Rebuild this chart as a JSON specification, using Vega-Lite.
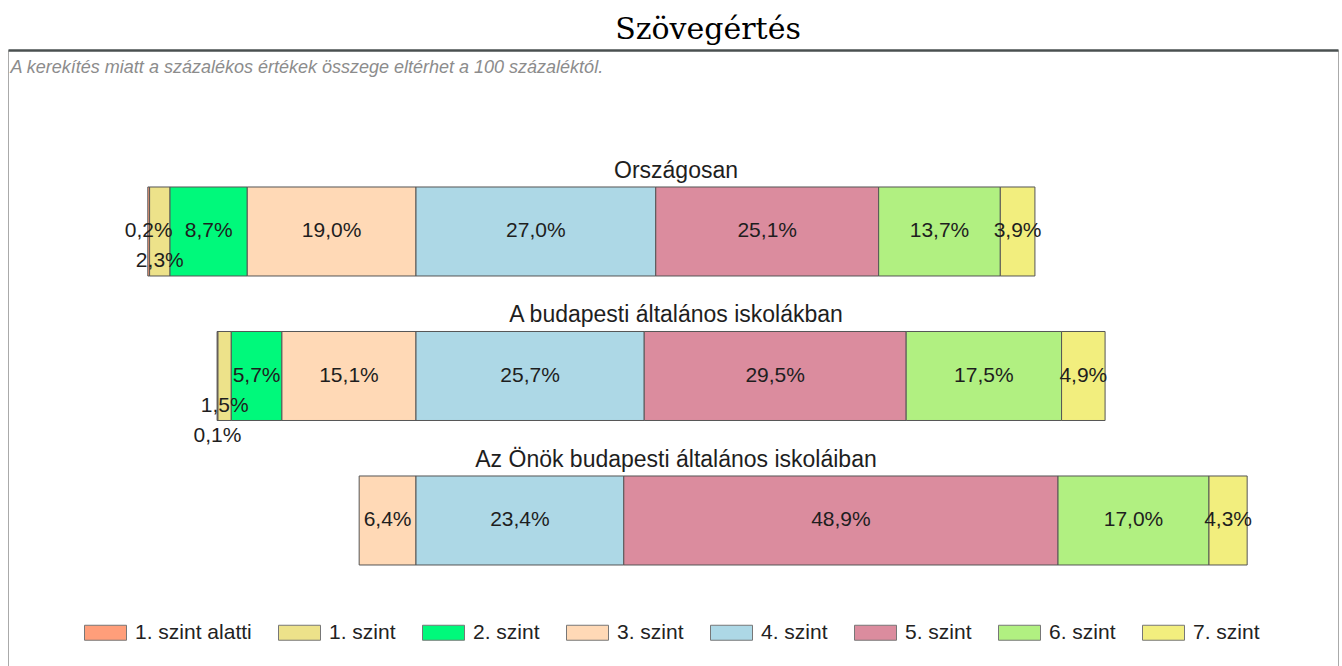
{
  "$schema": "https://vega.github.io/schema/vega-lite/v6.json",
  "width": 1330,
  "height": 616,
  "autosize": {"type": "none"},
  "padding": {"left": 8, "top": 50, "right": 4, "bottom": 0},
  "background": "white",
  "title": {"text": "Szövegértés", "font": "DejaVu Serif", "fontSize": 30, "fontWeight": "normal", "color": "#000000", "anchor": "middle", "dx": 35, "dy": 32, "offset": 13, "baseline": "alphabetic"},
  "datasets": {
    "szint": [
      {"g": "Országosan", "level": "1. szint alatti", "n": 0, "p": 0.002},
      {"g": "Országosan", "level": "1. szint", "n": 1, "p": 0.023},
      {"g": "Országosan", "level": "2. szint", "n": 2, "p": 0.087},
      {"g": "Országosan", "level": "3. szint", "n": 3, "p": 0.190},
      {"g": "Országosan", "level": "4. szint", "n": 4, "p": 0.270},
      {"g": "Országosan", "level": "5. szint", "n": 5, "p": 0.251},
      {"g": "Országosan", "level": "6. szint", "n": 6, "p": 0.137},
      {"g": "Országosan", "level": "7. szint", "n": 7, "p": 0.039},
      {"g": "A budapesti általános iskolákban", "level": "1. szint alatti", "n": 0, "p": 0.001},
      {"g": "A budapesti általános iskolákban", "level": "1. szint", "n": 1, "p": 0.015},
      {"g": "A budapesti általános iskolákban", "level": "2. szint", "n": 2, "p": 0.057},
      {"g": "A budapesti általános iskolákban", "level": "3. szint", "n": 3, "p": 0.151},
      {"g": "A budapesti általános iskolákban", "level": "4. szint", "n": 4, "p": 0.257},
      {"g": "A budapesti általános iskolákban", "level": "5. szint", "n": 5, "p": 0.295},
      {"g": "A budapesti általános iskolákban", "level": "6. szint", "n": 6, "p": 0.175},
      {"g": "A budapesti általános iskolákban", "level": "7. szint", "n": 7, "p": 0.049},
      {"g": "Az Önök budapesti általános iskoláiban", "level": "3. szint", "n": 3, "p": 0.064},
      {"g": "Az Önök budapesti általános iskoláiban", "level": "4. szint", "n": 4, "p": 0.234},
      {"g": "Az Önök budapesti általános iskoláiban", "level": "5. szint", "n": 5, "p": 0.489},
      {"g": "Az Önök budapesti általános iskoláiban", "level": "6. szint", "n": 6, "p": 0.170},
      {"g": "Az Önök budapesti általános iskoláiban", "level": "7. szint", "n": 7, "p": 0.043}
    ],
    "csoport": [
      {"g": "Országosan"},
      {"g": "A budapesti általános iskolákban"},
      {"g": "Az Önök budapesti általános iskoláiban"}
    ]
  },
  "data": {"name": "szint"},
  "encoding": {
    "y": {
      "field": "g", "type": "nominal", "title": null,
      "scale": {"domain": ["Országosan", "A budapesti általános iskolákban", "Az Önök budapesti általános iskoláiban"], "paddingInner": 0.384, "paddingOuter": 0.8235, "align": 0.5756},
      "axis": {"labels": false, "ticks": false, "grid": false, "domain": true, "domainColor": "#555555", "domainWidth": 2, "title": null}
    }
  },
  "layer": [
    {
      "transform": [{"filter": "datum.n <= 3"}],
      "mark": {"type": "bar", "stroke": "#555555", "strokeWidth": 1},
      "encoding": {
        "x": {"field": "p", "type": "quantitative", "stack": "zero", "scale": {"domain": [-1.03829, 0.45946], "reverse": true, "nice": false, "zero": false}, "axis": null},
        "color": {
          "field": "level", "type": "nominal",
          "scale": {"domain": ["1. szint alatti", "1. szint", "2. szint", "3. szint", "4. szint", "5. szint", "6. szint", "7. szint"], "range": ["#FF9E7A", "#EDE28A", "#00F97B", "#FFD9B6", "#ADD8E6", "#DB8C9E", "#B1F081", "#F2EE7E"]},
          "legend": {"title": null, "orient": "none", "legendX": 76, "legendY": 561, "direction": "horizontal", "columns": 8, "columnPadding": 24, "symbolType": "M-1,-0.357L1,-0.357L1,0.357L-1,0.357Z", "symbolSize": 1764, "symbolStrokeColor": "#777777", "symbolStrokeWidth": 1, "symbolOpacity": 1, "labelFont": "Liberation Sans", "labelFontSize": 21, "labelColor": "#222222", "labelOffset": 8}
        },
        "order": {"field": "n", "sort": "descending"}
      }
    },
    {
      "transform": [{"filter": "datum.n >= 4"}],
      "mark": {"type": "bar", "stroke": "#555555", "strokeWidth": 1},
      "encoding": {
        "x": {"field": "p", "type": "quantitative", "stack": "zero", "scale": {"domain": [-0.45946, 1.03829], "nice": false, "zero": false},
          "axis": {"orient": "top", "labels": false, "ticks": false, "grid": false, "domain": true, "domainColor": "#4a5050", "domainWidth": 2.5, "title": "A kerekítés miatt a  százalékos értékek összege eltérhet a 100 százaléktól.", "titleFont": "Liberation Sans", "titleFontSize": 18, "titleFontStyle": "italic", "titleFontWeight": "normal", "titleColor": "#8c8c8c", "titleX": 2, "titleY": 22, "titleAlign": "left", "titleBaseline": "alphabetic", "titleAngle": 0}},
        "color": {
          "field": "level", "type": "nominal",
          "scale": {"domain": ["1. szint alatti", "1. szint", "2. szint", "3. szint", "4. szint", "5. szint", "6. szint", "7. szint"], "range": ["#FF9E7A", "#EDE28A", "#00F97B", "#FFD9B6", "#ADD8E6", "#DB8C9E", "#B1F081", "#F2EE7E"]},
          "legend": {"title": null, "orient": "none", "legendX": 76, "legendY": 561, "direction": "horizontal", "columns": 8, "columnPadding": 24, "symbolType": "M-1,-0.357L1,-0.357L1,0.357L-1,0.357Z", "symbolSize": 1764, "symbolStrokeColor": "#777777", "symbolStrokeWidth": 1, "symbolOpacity": 1, "labelFont": "Liberation Sans", "labelFontSize": 21, "labelColor": "#222222", "labelOffset": 8}
        },
        "order": {"field": "n", "sort": "ascending"}
      }
    },
    {
      "transform": [{"filter": "datum.n <= 3"}],
      "mark": {"type": "text", "font": "Liberation Sans", "fontSize": 21, "color": "#1e1e1e", "align": "center", "baseline": "middle", "dy": 0},
      "encoding": {
        "x": {"field": "p", "type": "quantitative", "stack": "zero", "bandPosition": 0.5, "scale": {"domain": [-1.03829, 0.45946], "reverse": true, "nice": false, "zero": false}, "axis": null},
        "detail": {"field": "level"},
        "order": {"field": "n", "sort": "descending"},
        "text": {"condition": {"test": "datum.n != 1 && !(datum.n == 0 && datum.g == 'A budapesti általános iskolákban')", "field": "p", "type": "quantitative", "format": ".1%"}, "value": ""}
      }
    },
    {
      "transform": [{"filter": "datum.n <= 3"}],
      "mark": {"type": "text", "font": "Liberation Sans", "fontSize": 21, "color": "#1e1e1e", "align": "center", "baseline": "middle", "dy": 30},
      "encoding": {
        "x": {"field": "p", "type": "quantitative", "stack": "zero", "bandPosition": 0.5, "scale": {"domain": [-1.03829, 0.45946], "reverse": true, "nice": false, "zero": false}, "axis": null},
        "detail": {"field": "level"},
        "order": {"field": "n", "sort": "descending"},
        "text": {"condition": {"test": "datum.n == 1", "field": "p", "type": "quantitative", "format": ".1%"}, "value": ""}
      }
    },
    {
      "transform": [{"filter": "datum.n <= 3"}],
      "mark": {"type": "text", "font": "Liberation Sans", "fontSize": 21, "color": "#1e1e1e", "align": "center", "baseline": "middle", "dy": 60},
      "encoding": {
        "x": {"field": "p", "type": "quantitative", "stack": "zero", "bandPosition": 0.5, "scale": {"domain": [-1.03829, 0.45946], "reverse": true, "nice": false, "zero": false}, "axis": null},
        "detail": {"field": "level"},
        "order": {"field": "n", "sort": "descending"},
        "text": {"condition": {"test": "datum.n == 0 && datum.g == 'A budapesti általános iskolákban'", "field": "p", "type": "quantitative", "format": ".1%"}, "value": ""}
      }
    },
    {
      "transform": [{"filter": "datum.n >= 4"}],
      "mark": {"type": "text", "font": "Liberation Sans", "fontSize": 21, "color": "#1e1e1e", "align": "center", "baseline": "middle"},
      "encoding": {
        "x": {"field": "p", "type": "quantitative", "stack": "zero", "bandPosition": 0.5, "scale": {"domain": [-0.45946, 1.03829], "nice": false, "zero": false}, "axis": null},
        "detail": {"field": "level"},
        "order": {"field": "n", "sort": "ascending"},
        "text": {"field": "p", "type": "quantitative", "format": ".1%"}
      }
    },
    {
      "data": {"name": "csoport"},
      "mark": {"type": "text", "font": "Liberation Sans", "fontSize": 23, "color": "#1e1e1e", "align": "center", "baseline": "alphabetic", "dy": -9, "x": {"expr": "width/2 + 3"}},
      "encoding": {
        "y": {"field": "g", "type": "nominal", "bandPosition": 0, "title": null,
          "scale": {"domain": ["Országosan", "A budapesti általános iskolákban", "Az Önök budapesti általános iskoláiban"], "paddingInner": 0.384, "paddingOuter": 0.8235, "align": 0.5756},
          "axis": null},
        "text": {"field": "g", "type": "nominal"}
      }
    }
  ],
  "resolve": {"scale": {"x": "independent"}, "axis": {"x": "independent"}},
  "config": {
    "view": {"stroke": "#aaaaaa", "strokeWidth": 1},
    "locale": {"number": {"decimal": ",", "thousands": " ", "grouping": [3], "currency": ["", " Ft"]}}
  }
}
